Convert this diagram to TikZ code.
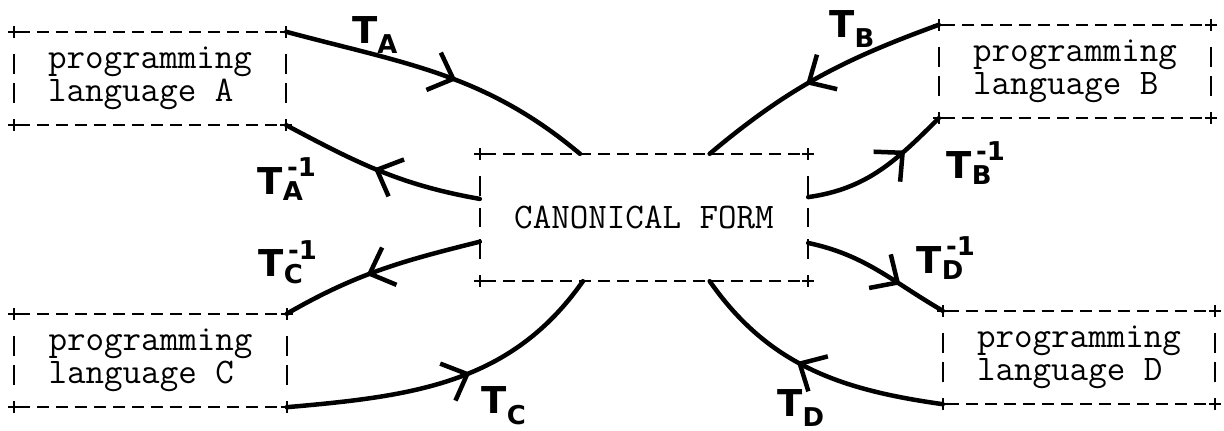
\documentclass[tikz,border=0pt]{standalone}
\usepackage{amsmath}
\usepackage{fontspec}
\setsansfont{DejaVu Sans}
\usetikzlibrary{arrows.meta,calc,decorations.markings}

\tikzset{
  boite/.style={inner sep=0pt, minimum height=93pt, minimum width=272pt, align=left,
    font=\ttfamily\fontsize{36}{33}\selectfont},
  hdash/.style={line width=2pt, dash pattern=on 12pt off 7pt, dash phase=15pt},
  vdash/.style={line width=2pt, dash pattern=on 0pt off 22pt on 20pt off 12pt on 20pt off 200pt},
  fleche/.style={line width=4.5pt, line cap=round, postaction={decorate},
    decoration={markings, mark=at position #1 with {\arrow{Straight Barb[length=21pt,width=40pt,line width=4.5pt]}}}},
  etiq/.style={font=\sffamily\bfseries\fontsize{37}{40}\selectfont, inner sep=0pt}
}

\begin{document}
\begin{tikzpicture}[x=1pt,y=1pt]
\useasboundingbox (0,0) rectangle (1224,431);
\node[boite] (pa) at (150,352.5) {programming\\language A};
\node[boite] (pb) at (1075,359.5) {programming\\language B};
\node[boite] (pc) at (150.5,70.5) {programming\\language C};
\node[boite] (pd) at (1079,73.5) {programming\\language D};
\node[boite, minimum width=328pt, minimum height=127pt] (canon) at (644,213.5) {CANONICAL FORM};
%cadres en pointilles
\foreach \n in {pa,pb,pc,pd,canon}{
  \draw[hdash] (\n.north west) -- (\n.north east);
  \draw[hdash] (\n.south west) -- (\n.south east);
  \draw[vdash] (\n.north west) -- (\n.west);
  \draw[vdash] (\n.south west) -- (\n.west);
  \draw[vdash] (\n.north east) -- (\n.east);
  \draw[vdash] (\n.south east) -- (\n.east);
  \foreach \c in {north west,north east,south west,south east}
    \draw[line width=2pt] (\n.\c) +(-6,0) -- +(6,0) +(0,-6) -- +(0,6);
}
%points d'attache
\coordinate (cA) at ($(canon.north west)!.305!(canon.north east)$);
\coordinate (cB) at ($(canon.north west)!.70!(canon.north east)$);
\coordinate (cC) at ($(canon.south west)!.314!(canon.south east)$);
\coordinate (cD) at ($(canon.south west)!.70!(canon.south east)$);
\coordinate (cAi) at ($(canon.north west)!.354!(canon.south west)$);
\coordinate (cCi) at ($(canon.north west)!.69!(canon.south west)$);
\coordinate (cBi) at ($(canon.north east)!.34!(canon.south east)$);
\coordinate (cDi) at ($(canon.north east)!.70!(canon.south east)$);
%transformations
\draw[fleche=.55] (pa.north east) to[out=-15,in=140] (cA);
\draw[fleche=.53] (cAi) to[out=170,in=-28] (pa.south east);
\draw[fleche=.55] (pb.north west) to[out=200,in=40] (cB);
\draw[fleche=.7] (cBi) to[out=8,in=-135] (pb.south west);
\draw[fleche=.57] (cCi) to[out=194,in=30] (pc.north east);
\draw[fleche=.56] (pc.south east) to[out=5,in=-125] (cC);
\draw[fleche=.67] (cDi) to[out=-12,in=150] (pd.north west);
\draw[fleche=.56] (pd.south west) to[out=172,in=-55] (cD);
%etiquettes
\node[etiq] (lA) at (375,396) {$\textsf{T}_{\textsf{A}}$};
\node[etiq] (lAi) at (287,252) {$\textsf{T}_{\textsf{A}}^{\,\textsf{-1}}$};
\node[etiq] (lB) at (852,402) {$\textsf{T}_{\textsf{B}}$};
\node[etiq] (lBi) at (976,268) {$\textsf{T}_{\textsf{B}}^{\,\textsf{-1}}$};
\node[etiq] (lC) at (504,25) {$\textsf{T}_{\textsf{C}}$};
\node[etiq] (lCi) at (288,169) {$\textsf{T}_{\textsf{C}}^{\,\textsf{-1}}$};
\node[etiq] (lD) at (801,23) {$\textsf{T}_{\textsf{D}}$};
\node[etiq] (lDi) at (946,173) {$\textsf{T}_{\textsf{D}}^{\,\textsf{-1}}$};
\end{tikzpicture}
\end{document}
